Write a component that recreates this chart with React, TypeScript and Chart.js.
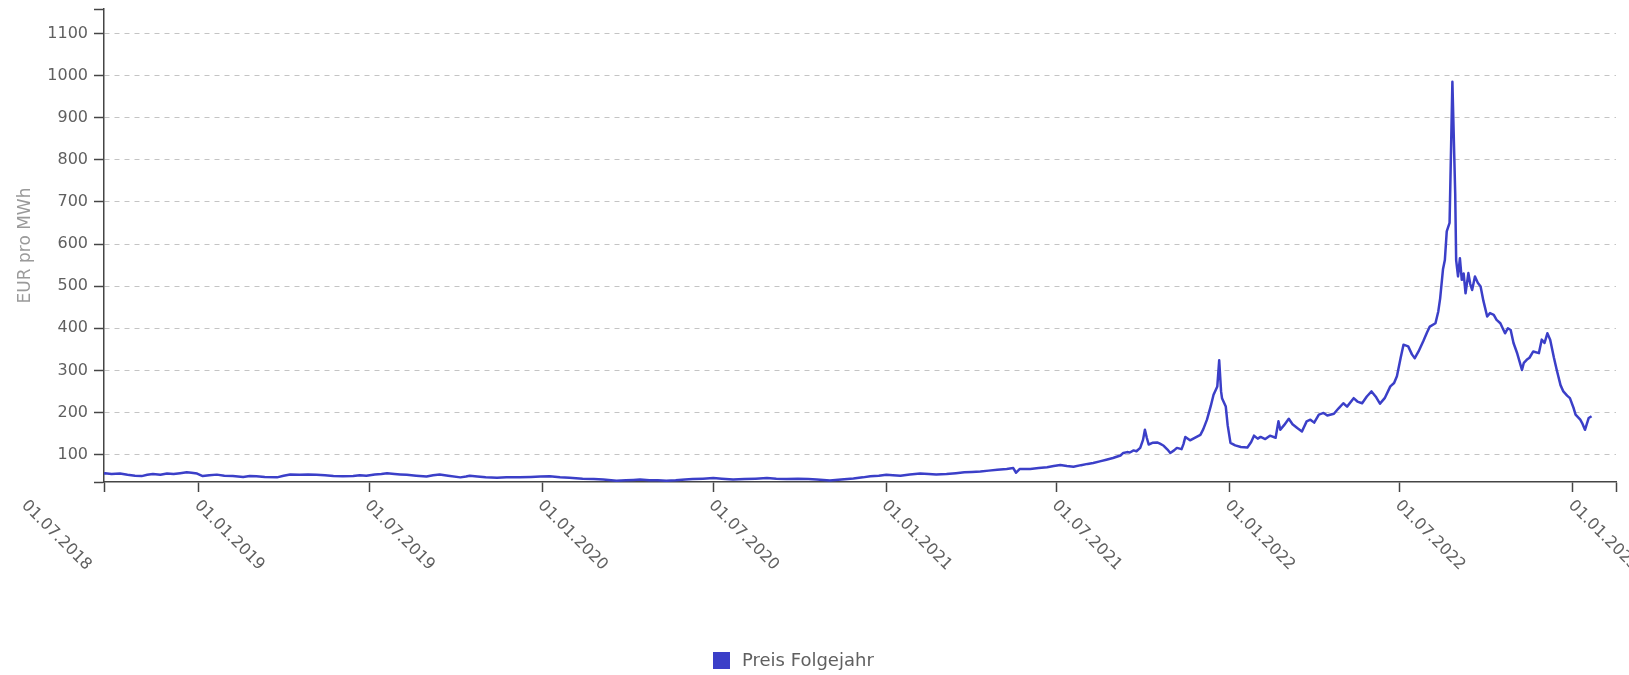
import React, { useEffect, useRef } from 'react';
import { Chart, registerables } from 'chart.js';

Chart.register(...registerables);

// ---- data ----
const seriesLabel = 'Preis Folgejahr';
const axisTitle = 'EUR pro MWh';

const priceDates = [
  '2018-09-22', '2018-09-23', '2018-09-30', '2018-10-09', '2018-10-17', '2018-10-25', '2018-11-01', '2018-11-07',
  '2018-11-13', '2018-11-21', '2018-11-28', '2018-12-05', '2018-12-12', '2018-12-19', '2018-12-24', '2018-12-30',
  '2019-01-05', '2019-01-12', '2019-01-20', '2019-01-28', '2019-02-06', '2019-02-17', '2019-02-24', '2019-03-03',
  '2019-03-12', '2019-03-25', '2019-04-01', '2019-04-08', '2019-04-18', '2019-04-27', '2019-05-06', '2019-05-15',
  '2019-05-24', '2019-06-03', '2019-06-14', '2019-06-21', '2019-06-28', '2019-07-07', '2019-07-14', '2019-07-20',
  '2019-07-28', '2019-08-03', '2019-08-10', '2019-08-20', '2019-08-31', '2019-09-07', '2019-09-14', '2019-09-23',
  '2019-10-06', '2019-10-12', '2019-10-16', '2019-10-24', '2019-11-02', '2019-11-14', '2019-11-24', '2019-12-08',
  '2019-12-20', '2019-12-30', '2020-01-09', '2020-01-20', '2020-01-30', '2020-02-13', '2020-02-25', '2020-03-06',
  '2020-03-20', '2020-03-30', '2020-04-07', '2020-04-14', '2020-04-24', '2020-05-03', '2020-05-12', '2020-05-22',
  '2020-06-01', '2020-06-09', '2020-06-20', '2020-07-01', '2020-07-10', '2020-07-22', '2020-08-03', '2020-08-15',
  '2020-08-27', '2020-09-06', '2020-09-17', '2020-09-29', '2020-10-10', '2020-10-19', '2020-11-02', '2020-11-14',
  '2020-11-27', '2020-12-07', '2020-12-15', '2020-12-24', '2021-01-01', '2021-01-08', '2021-01-16', '2021-01-26',
  '2021-02-06', '2021-02-15', '2021-02-23', '2021-03-06', '2021-03-16', '2021-03-25', '2021-04-02', '2021-04-11',
  '2021-04-20', '2021-04-29', '2021-05-09', '2021-05-16', '2021-05-19', '2021-05-23', '2021-06-03', '2021-06-12',
  '2021-06-21', '2021-06-28', '2021-07-05', '2021-07-12', '2021-07-19', '2021-07-27', '2021-08-03', '2021-08-09',
  '2021-08-16', '2021-08-23', '2021-08-30', '2021-09-07', '2021-09-10', '2021-09-14', '2021-09-17', '2021-09-21',
  '2021-09-24', '2021-09-28', '2021-10-01', '2021-10-03', '2021-10-05', '2021-10-07', '2021-10-11', '2021-10-16',
  '2021-10-19', '2021-10-23', '2021-10-27', '2021-10-30', '2021-11-03', '2021-11-06', '2021-11-11', '2021-11-13',
  '2021-11-15', '2021-11-20', '2021-11-25', '2021-12-01', '2021-12-04', '2021-12-08', '2021-12-12', '2021-12-15',
  '2021-12-19', '2021-12-21', '2021-12-23', '2021-12-24', '2021-12-28', '2021-12-30', '2022-01-02', '2022-01-07',
  '2022-01-13', '2022-01-20', '2022-01-24', '2022-01-27', '2022-01-31', '2022-02-03', '2022-02-08', '2022-02-13',
  '2022-02-19', '2022-02-22', '2022-02-24', '2022-02-28', '2022-03-05', '2022-03-09', '2022-03-14', '2022-03-19',
  '2022-03-24', '2022-03-28', '2022-04-01', '2022-04-06', '2022-04-11', '2022-04-15', '2022-04-22', '2022-04-27',
  '2022-05-02', '2022-05-06', '2022-05-13', '2022-05-17', '2022-05-22', '2022-05-27', '2022-06-01', '2022-06-06',
  '2022-06-10', '2022-06-15', '2022-06-21', '2022-06-25', '2022-06-28', '2022-07-02', '2022-07-05', '2022-07-10',
  '2022-07-14', '2022-07-17', '2022-07-21', '2022-07-26', '2022-07-30', '2022-08-02', '2022-08-08', '2022-08-11',
  '2022-08-13', '2022-08-16', '2022-08-18', '2022-08-20', '2022-08-23', '2022-08-26', '2022-08-29', '2022-08-30',
  '2022-09-01', '2022-09-03', '2022-09-05', '2022-09-07', '2022-09-09', '2022-09-12', '2022-09-14', '2022-09-16',
  '2022-09-19', '2022-09-22', '2022-09-25', '2022-09-28', '2022-10-02', '2022-10-05', '2022-10-09', '2022-10-12',
  '2022-10-16', '2022-10-21', '2022-10-24', '2022-10-27', '2022-10-30', '2022-11-03', '2022-11-08', '2022-11-10',
  '2022-11-13', '2022-11-16', '2022-11-20', '2022-11-26', '2022-11-29', '2022-12-02', '2022-12-05', '2022-12-08',
  '2022-12-12', '2022-12-15', '2022-12-19', '2022-12-22', '2022-12-26', '2022-12-29', '2023-01-02', '2023-01-04',
  '2023-01-09', '2023-01-11', '2023-01-14', '2023-01-18', '2023-01-21',
];

const priceValues = [
  55, 56, 54, 55, 52, 50, 49, 52,
  54, 52, 55, 54, 56, 58, 57, 55,
  49, 51, 52.5, 50, 49, 47, 49, 48.5,
  47, 46, 50, 53, 52, 53, 52, 51,
  49, 48.5, 49, 51, 50, 53, 54, 55.5,
  54, 53, 52, 50, 48, 51, 53, 50,
  46, 48, 50, 48, 46, 45, 46, 46,
  47, 48, 48.5, 46, 45, 43, 42, 41,
  38, 39, 40, 41, 39, 39, 38, 39,
  41, 42, 43, 44.5, 43, 41, 42, 43,
  44.5, 43, 42, 43, 42, 41, 38.5, 41,
  43.5, 46, 48.5, 50, 52, 51, 50, 53,
  55, 54, 53, 54, 56, 58, 59, 60,
  62, 64, 66, 68, 57, 66, 66, 68,
  70, 73, 75.6, 73, 71, 75, 78, 80,
  84, 88, 92, 98, 104, 106, 105, 110,
  108, 116, 135, 159, 140, 124, 128, 129,
  126, 121, 112, 104, 110, 116, 113, 125,
  142, 134, 140, 147, 160, 183, 215, 242,
  262, 324, 250, 234, 214, 170, 128, 122,
  118, 117, 130, 145, 138, 142, 137, 145,
  140, 179, 159, 170, 185, 172, 163, 155,
  179, 183, 176, 195, 199, 193, 197, 210,
  222, 214, 234, 226, 222, 238, 250, 236,
  221, 234, 262, 270, 286, 330, 361, 357,
  338, 329, 345, 369, 390, 404, 412, 440,
  471, 540, 562, 630, 650, 985, 720, 562,
  523, 566, 515, 530, 483, 531, 505, 491,
  523, 508, 499, 465, 428, 436, 432, 420,
  412, 388, 400, 396, 365, 340, 301, 318,
  325, 330, 345, 341, 373, 365, 388, 373,
  330, 301, 265, 250, 240, 234, 210, 195,
  183, 175, 159, 187, 191,
];

const xTickDates = [
  '2018-07-01', '2019-01-01', '2019-07-01', '2020-01-01', '2020-07-01',
  '2021-01-01', '2021-07-01', '2022-01-01', '2022-07-01', '2023-01-01',
];
const xTickLabels = [
  '01.07.2018', '01.01.2019', '01.07.2019', '01.01.2020', '01.07.2020',
  '01.01.2021', '01.07.2021', '01.01.2022', '01.07.2022', '01.01.2023',
];
const yTickValues = [100, 200, 300, 400, 500, 600, 700, 800, 900, 1000, 1100];

const xStart = '2018-09-22';
const xEnd = '2023-02-16';
const yMin = 35;
const yMax = 1158;

// ---- helpers / styles ----
const FONT = '"DejaVu Sans", sans-serif';
const LINE_COLOR = '#3b3fc8';
const AXIS_COLOR = '#454545';
const TEXT_COLOR = '#606060';

const ts = (s: string) => new Date(s + 'T00:00:00Z').getTime();

const customText = {
  id: 'customText',
  afterDraw(chart: any) {
    const { ctx, chartArea } = chart;
    const xs = chart.scales.x;
    ctx.save();
    ctx.font = `16px ${FONT}`;
    ctx.fillStyle = TEXT_COLOR;
    ctx.textAlign = 'left';
    ctx.textBaseline = 'alphabetic';
    xTickDates.forEach((d, i) => {
      const px = xs.getPixelForValue(ts(d));
      ctx.save();
      ctx.translate(px - 5, chartArea.bottom + 24);
      ctx.rotate(Math.PI / 4);
      ctx.fillText(xTickLabels[i], 0, 0);
      ctx.restore();
    });
    // legend
    const ds = chart.data.datasets[0];
    ctx.fillStyle = ds.borderColor;
    ctx.fillRect(713, 652, 17, 17);
    ctx.font = `18px ${FONT}`;
    ctx.fillStyle = TEXT_COLOR;
    ctx.textBaseline = 'middle';
    ctx.fillText(ds.label, 742, 661);
    ctx.restore();
  },
};

export default function App() {
  const canvasRef = useRef<HTMLCanvasElement | null>(null);

  useEffect(() => {
    if (!canvasRef.current) return;
    const points = priceDates.map((d, i) => ({ x: ts(d), y: priceValues[i] }));
    const xMinV = ts(xStart);
    const xMaxV = ts(xEnd);

    const chart = new Chart(canvasRef.current, {
      type: 'line',
      data: {
        datasets: [
          {
            label: seriesLabel,
            data: points,
            borderColor: LINE_COLOR,
            backgroundColor: LINE_COLOR,
            borderWidth: 2.5,
            pointRadius: 0,
            tension: 0,
            borderJoinStyle: 'round',
            fill: false,
          },
        ],
      },
      options: {
        responsive: false,
        animation: false,
        events: [],
        layout: { padding: { left: 0, top: 9, right: 13, bottom: 0 } },
        plugins: {
          legend: { display: false },
          tooltip: { enabled: false },
        },
        scales: {
          x: {
            type: 'linear',
            min: xMinV,
            max: xMaxV,
            afterBuildTicks: (scale: any) => {
              const inner = xTickDates.map(ts).filter((v) => v > xMinV && v < xMaxV);
              scale.ticks = [xMinV, ...inner, xMaxV].map((value) => ({ value }));
            },
            ticks: { display: false, autoSkip: false },
            grid: {
              drawOnChartArea: false,
              drawTicks: true,
              tickLength: 10,
              tickColor: AXIS_COLOR,
              tickWidth: 1.5,
            },
            border: { display: true, color: AXIS_COLOR, width: 1.5 },
            afterFit: (scale: any) => {
              scale.height = 193;
              scale.paddingLeft = 0;
              scale.paddingRight = 0;
            },
          },
          y: {
            type: 'linear',
            min: yMin,
            max: yMax,
            afterBuildTicks: (scale: any) => {
              scale.ticks = [yMin, ...yTickValues, yMax].map((value) => ({ value }));
            },
            ticks: {
              autoSkip: false,
              padding: 6,
              color: TEXT_COLOR,
              font: { family: FONT, size: 16 },
              callback: (v: any) => (yTickValues.includes(v) ? String(v) : ''),
            },
            grid: {
              color: (c: any) =>
                c.tick && (c.tick.value === yMin || c.tick.value === yMax) ? 'rgba(0,0,0,0)' : '#c4c4c4',
              lineWidth: 1,
              drawTicks: true,
              tickLength: 10,
              tickColor: AXIS_COLOR,
              tickWidth: 1.5,
              tickBorderDash: [],
            },
            border: { display: true, color: AXIS_COLOR, width: 1.5, dash: [5, 5] },
            title: {
              display: true,
              text: axisTitle,
              color: '#9a9a9a',
              font: { family: FONT, size: 17 },
              padding: { top: 15, bottom: 0 },
            },
            afterFit: (scale: any) => {
              scale.width = 104;
              scale.paddingTop = 0;
              scale.paddingBottom = 0;
            },
          },
        },
      },
      plugins: [customText],
    } as any);

    return () => chart.destroy();
  }, []);

  return (
    <div style={{ position: 'absolute', left: 0, top: 0, width: 1629, height: 675, background: '#fff' }}>
      <canvas ref={canvasRef} width={1629} height={675} style={{ display: 'block' }} />
    </div>
  );
}
